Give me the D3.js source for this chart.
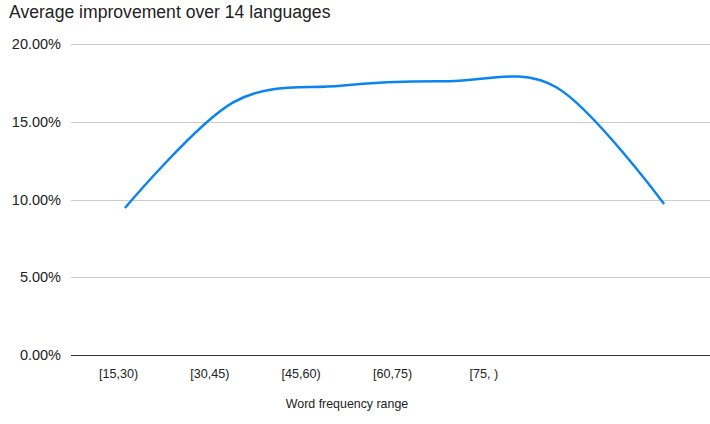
<!DOCTYPE html>
<html>
<head>
<meta charset="utf-8">
<script src="https://cdn.jsdelivr.net/npm/d3@7"></script>
<style>
  body { margin: 0; background: #fff; }
  text { font-family: "Liberation Sans", Arial, sans-serif; fill: #222; }
</style>
</head>
<body>
<script>
const w = 710;
const h = 424;

// data: one point per frequency bucket
const buckets = ["b1", "b2", "b3", "b4", "b5", "b6"];
const improvement = [0.0945, 0.1623, 0.1732, 0.1760, 0.1722, 0.0971];
// axis labels as drawn under the chart
const xLabels = ["[15,30)", "[30,45)", "[45,60)", "[60,75)", "[75, )", "", ""];
const yTicks = [0, 0.05, 0.10, 0.15, 0.20];

const plotLeft = 71;
const plotTop = 44;
const plotBottom = 355;

const svg = d3.select("body").append("svg").attr("width", w).attr("height", h);

// * SCALES
const x = d3.scalePoint().domain(buckets).range([plotLeft, 718]).padding(0.5);
const xLab = d3.scaleBand().domain(d3.range(xLabels.length)).range([plotLeft + 2, w + 2]);
const y = d3.scaleLinear().domain([0, 0.2]).range([plotBottom, plotTop]);

// * GRID
svg.append("g")
  .selectAll("line")
  .data(yTicks.filter((d) => d > 0))
  .enter()
  .append("line")
  .attr("x1", plotLeft)
  .attr("x2", w)
  .attr("y1", (d) => Math.round(y(d)) + 0.5)
  .attr("y2", (d) => Math.round(y(d)) + 0.5)
  .attr("stroke", "#cccccc")
  .attr("stroke-width", 1);

// * Y AXIS
const yAxis = d3.axisLeft(y).tickValues(yTicks).tickFormat(d3.format(".2%")).tickSize(0).tickPadding(10);
svg.append("g")
  .attr("transform", "translate(" + plotLeft + ",0)")
  .call(yAxis)
  .call((g) => g.select(".domain").remove())
  .selectAll("text")
  .style("font-size", "14.5px")
  .style("fill", "#222");

// * BASELINE
svg.append("line")
  .attr("x1", plotLeft)
  .attr("x2", w)
  .attr("y1", Math.round(y(0)) + 0.5)
  .attr("y2", Math.round(y(0)) + 0.5)
  .attr("stroke", "#333")
  .attr("stroke-width", 1);

// * X AXIS
const xAxis = d3.axisBottom(xLab).tickFormat((i) => xLabels[i]).tickSize(0).tickPadding(14);
svg.append("g")
  .attr("transform", "translate(0," + plotBottom + ")")
  .call(xAxis)
  .call((g) => g.select(".domain").remove())
  .selectAll("text")
  .style("font-size", "12.6px")
  .style("fill", "#222");

// * LINE
const line = d3.line()
  .x((d, i) => x(buckets[i]))
  .y((d) => y(d))
  .curve(d3.curveCardinal.tension(0));
svg.append("path")
  .datum(improvement)
  .attr("d", line)
  .attr("fill", "none")
  .attr("stroke", "#0a84f0")
  .attr("stroke-width", 2.5);

// * TITLES
svg.append("text")
  .attr("x", 9)
  .attr("y", 18)
  .style("font-size", "17.6px")
  .text("Average improvement over 14 languages");

svg.append("text")
  .attr("x", 347)
  .attr("y", 408)
  .attr("text-anchor", "middle")
  .style("font-size", "12.4px")
  .text("Word frequency range");
</script>
</body>
</html>
